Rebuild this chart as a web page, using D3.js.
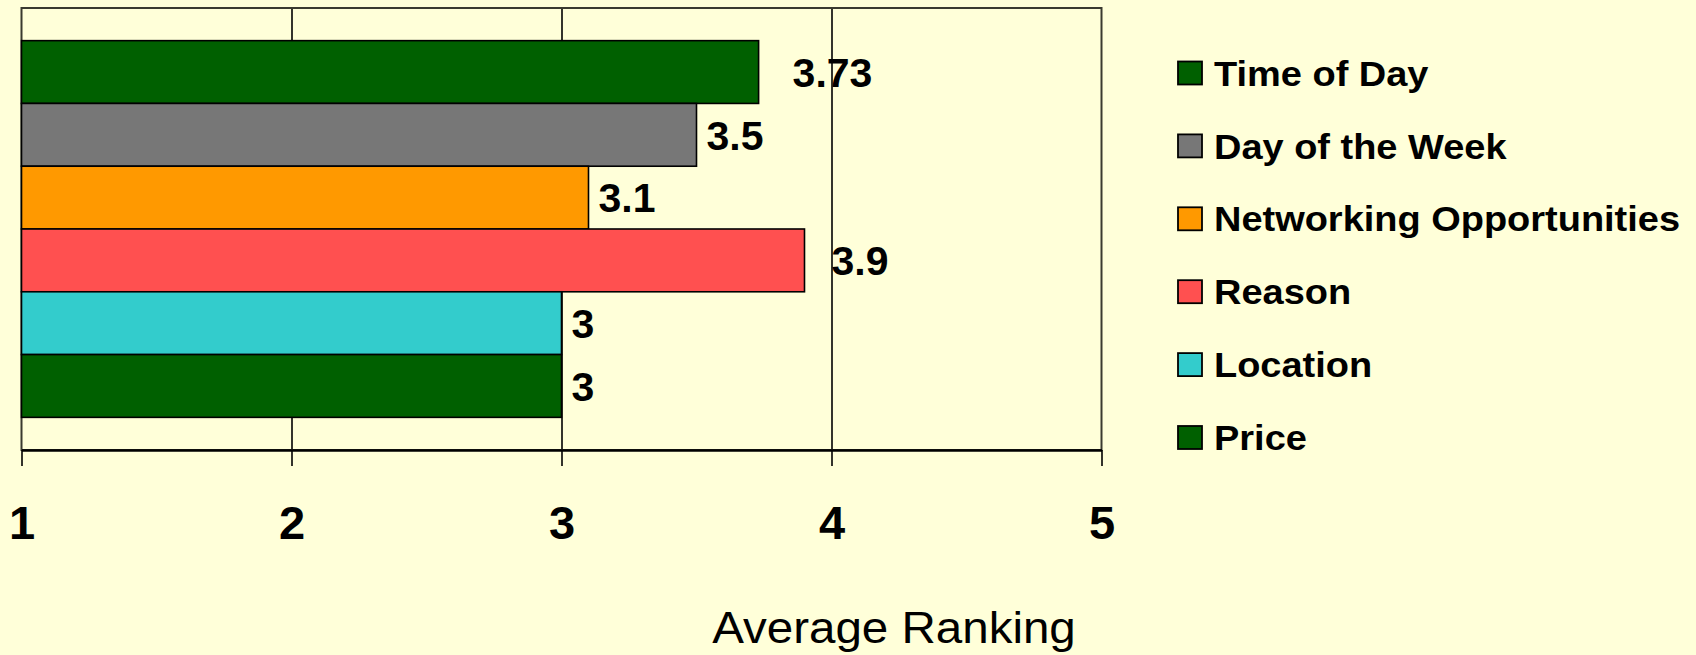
<!DOCTYPE html>
<meta charset="utf-8">
<script src="https://cdn.jsdelivr.net/npm/d3@7"></script>
<style>
  body { margin: 0; background: #ffffd9; }
  svg { display: block; font-family: "Liberation Sans", Arial, sans-serif; }
</style>
<body>
<script>

// data, top bar first
var categories = ["Time of Day", "Day of the Week", "Networking Opportunities", "Reason", "Location", "Price"];
var values = [3.73, 3.5, 3.1, 3.9, 3, 3];
var valueLabels = ["3.73", "3.5", "3.1", "3.9", "3", "3"];
var colors = ["#006000", "#777777", "#ff9900", "#ff5050", "#33cccc", "#006000"];
var tickValues = [1, 2, 3, 4, 5];
var axisTitle = "Average Ranking";

// excel pushed a couple of labels further out
var labelGap = [34, 10, 10, 27, 10, 10];

var W = 1696, H = 655;
var plot = {left: 21.5, right: 1101.5, top: 8, bottom: 450};

var svg = d3.select("body").append("svg")
    .attr("width", W)
    .attr("height", H);

var x = d3.scaleLinear().domain([1, 5]).range([plot.left, plot.right]);
var y = d3.scaleBand().domain(categories).range([plot.top, plot.bottom])
    .paddingInner(0).paddingOuter(0.52);

// gridlines
svg.append("g")
    .attr("transform", "translate(0," + plot.bottom + ")")
    .call(d3.axisBottom(x).tickValues([2, 3, 4]).tickSize(-(plot.bottom - plot.top)).tickFormat(""))
    .call(function(g) { g.select(".domain").remove(); })
    .selectAll("line").attr("stroke", "#000").attr("stroke-width", 1.6);

// plot border
svg.append("rect")
    .attr("x", plot.left).attr("y", plot.top)
    .attr("width", plot.right - plot.left).attr("height", plot.bottom - plot.top)
    .attr("fill", "none").attr("stroke", "#3a3a30").attr("stroke-width", 2);

// bars
svg.append("g").selectAll("rect")
    .data(categories).enter().append("rect")
    .attr("x", x(1))
    .attr("y", function(d) { return y(d); })
    .attr("width", function(d, i) { return x(values[i]) - x(1); })
    .attr("height", y.bandwidth())
    .attr("fill", function(d, i) { return colors[i]; })
    .attr("stroke", "#000").attr("stroke-width", 1.6);

// value labels
svg.append("g").selectAll("text")
    .data(categories).enter().append("text")
    .attr("x", function(d, i) { return x(values[i]) + labelGap[i]; })
    .attr("y", function(d) { return y(d) + y.bandwidth() / 2; })
    .attr("dy", "0.36em")
    .style("font-size", "41px").style("font-weight", "bold")
    .text(function(d, i) { return valueLabels[i]; });

// x axis
var xAxis = svg.append("g")
    .attr("transform", "translate(0," + plot.bottom + ")")
    .call(d3.axisBottom(x).tickValues(tickValues).tickSize(16).tickSizeOuter(0).tickPadding(40).tickFormat(d3.format("d")));
xAxis.select(".domain").attr("stroke", "#000").attr("stroke-width", 2.4);
xAxis.selectAll("line").attr("stroke", "#000").attr("stroke-width", 1.6);
xAxis.selectAll("text")
    .attr("fill", "#000")
    .style("font-size", "47px").style("font-weight", "bold")
    .style("font-family", "'Liberation Sans', Arial, sans-serif");

// axis title (a little wide like the original)
svg.append("text")
    .attr("transform", "translate(894,643) scale(1.08,1)")
    .attr("text-anchor", "middle")
    .style("font-size", "44px")
    .text(axisTitle);

// legend
var legend = svg.append("g").selectAll("g")
    .data(categories).enter().append("g")
    .attr("transform", function(d, i) { return "translate(1178," + (73 + i * 72.9) + ")"; });

legend.append("rect")
    .attr("x", 0).attr("y", -11.5)
    .attr("width", 24).attr("height", 23)
    .attr("fill", function(d, i) { return colors[i]; })
    .attr("stroke", "#000").attr("stroke-width", 1.8);

legend.append("text")
    .attr("transform", "translate(36,0) scale(1.085,1)")
    .attr("dy", "0.36em")
    .style("font-size", "35px").style("font-weight", "bold")
    .text(String);

</script>
</body>
